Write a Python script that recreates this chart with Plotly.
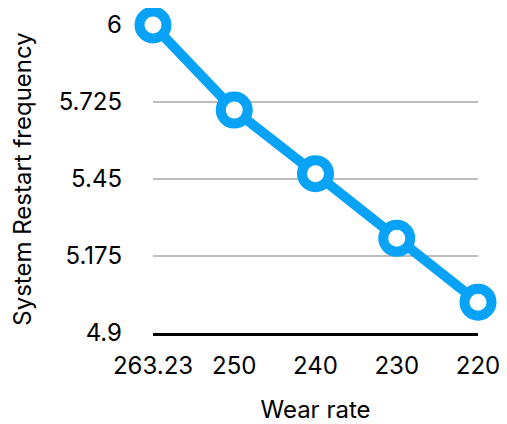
import plotly.graph_objects as go

categories = ["263.23", "250", "240", "230", "220"]
restart_freq = [6.0, 5.696, 5.469, 5.238, 5.01]
y_ticks = [4.9, 5.175, 5.45, 5.725, 6.0]
y_tick_labels = ["4.9", "5.175", "5.45", "5.725", "6"]

blue = "#08A2F6"
font_family = "Inter, Liberation Sans, Arial, sans-serif"

# page body has an 8px margin; compensate so the plot lands where the reference has it
fig = go.Figure()
fig.add_trace(go.Scatter(
    x=list(range(len(categories))),
    y=restart_freq,
    mode="lines+markers",
    line=dict(color=blue, width=10),
    marker=dict(size=27, color="white", line=dict(color=blue, width=10)),
    cliponaxis=False,
    showlegend=False,
))

fig.update_layout(
    width=499, height=416,
    margin=dict(l=145, r=29, t=17, b=91, autoexpand=False),
    paper_bgcolor="white", plot_bgcolor="white",
    font=dict(family=font_family, size=24, color="black"),
    xaxis=dict(
        range=[0, len(categories) - 1],
        tickmode="array",
        tickvals=list(range(len(categories))),
        ticktext=categories,
        showgrid=False, zeroline=False,
        showline=True, linecolor="black", linewidth=2.5,
        ticks="", ticklabelstandoff=9,
        title=dict(text="Wear rate", standoff=27, font=dict(size=24)),
    ),
    yaxis=dict(
        range=[4.9, 6.0],
        tickmode="array",
        tickvals=y_ticks,
        ticktext=y_tick_labels,
        showgrid=True, gridcolor="#BDBDBD", gridwidth=2,
        zeroline=False, showline=False,
        ticks="", ticklabelstandoff=30,
        title=dict(text="System Restart frequency", standoff=22, font=dict(size=24)),
    ),
)

fig.write_html("out.html")
